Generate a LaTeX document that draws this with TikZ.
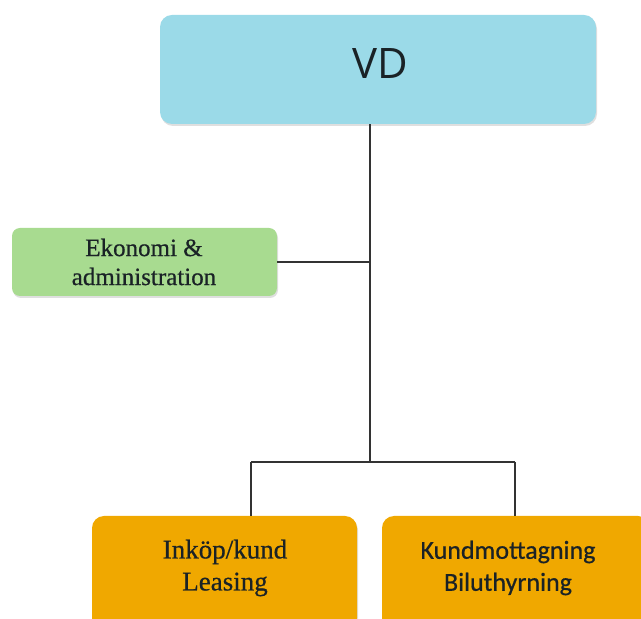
\documentclass[tikz,border=0pt]{standalone}
\usepackage{fontspec}
\setmainfont{Liberation Serif}
\newfontfamily\heavyserif{Liberation Serif}[FakeBold=0.6]
\newfontfamily\boxsans{Carlito}[FakeBold=0.6]
\newfontfamily\vdsans{Open Sans}
\usetikzlibrary{shadows}
\definecolor{vdcol}{HTML}{9BDAE8}
\definecolor{ekcol}{HTML}{A8DB90}
\definecolor{orcol}{HTML}{F0A800}
\definecolor{txtcol}{HTML}{1A2226}
\definecolor{linecol}{HTML}{333333}
\tikzset{
  unitbox/.style={rounded corners=12pt, draw=none, inner sep=0pt, align=center, text=txtcol,
    drop shadow={shadow xshift=1pt, shadow yshift=-2pt, opacity=0.25}},
  conn/.style={draw=linecol, line width=1.4pt},
  lbl/.style={text=txtcol, align=center, inner sep=0pt}
}
\begin{document}
\begin{tikzpicture}[x=1pt,y=1pt]
\useasboundingbox (0,0) rectangle (641,619);
\clip (0,0) rectangle (641,619);
\fill[white] (0,0) rectangle (641,619);
% VD: x 160..596, y 15..124 -> tikz y 604..495
\node[unitbox, fill=vdcol, minimum width=436pt, minimum height=109pt] (vd) at (378,549.5) {};
\node[lbl, font=\vdsans\fontsize{42}{46}\selectfont] (vdt) at (380,555) {VD};
% Ekonomi: x 12..277, y 229..297 -> tikz y 390..322
\node[unitbox, fill=ekcol, rounded corners=8pt, minimum width=265pt, minimum height=68pt] (ek) at (144.5,357) {};
\node[lbl, font=\heavyserif\fontsize{25}{29}\selectfont] (ekt) at (144,357) {Ekonomi \&\\administration};
% Inköp: x 92..357, y 516..630
\node[unitbox, fill=orcol, minimum width=265pt, minimum height=114pt] (ink) at (224.5,46) {};
\node[lbl, font=\heavyserif\fontsize{27}{32}\selectfont] (inkt) at (225,51) {Inköp/kund\\Leasing};
% Kund: x 382..650
\node[unitbox, fill=orcol, minimum width=268pt, minimum height=114pt] (kund) at (516,46) {};
\node[lbl, font=\boxsans\fontsize{26}{32}\selectfont] (kundt) at (508,51) {Kundmottagning\\Biluthyrning};
% connectors
\coordinate (j2) at (370,157);
\coordinate (l) at (251,157);
\coordinate (r) at (515,157);
\draw[conn] (vd.south -| j2) -- (j2);
\draw[conn] (ek.east) -- (ek.east -| j2);
\draw[conn] (l) -- (r);
\draw[conn] (l) -- (l |- ink.north);
\draw[conn] (r) -- (r |- kund.north);
\end{tikzpicture}
\end{document}
